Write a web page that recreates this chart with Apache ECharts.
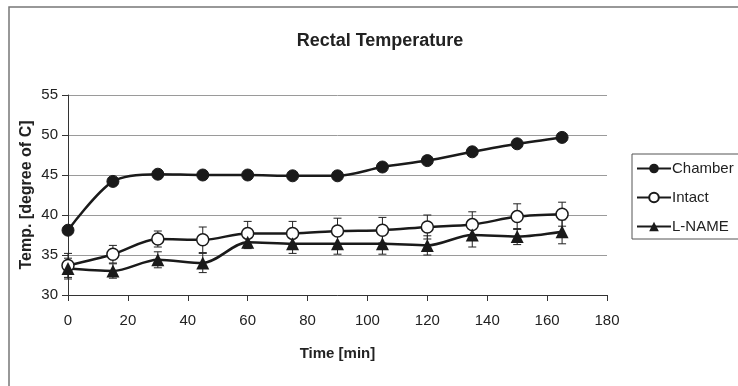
<!DOCTYPE html>
<html><head><meta charset="utf-8">
<script src="https://cdn.jsdelivr.net/npm/echarts@6/dist/echarts.min.js"></script>
<style>html,body{margin:0;padding:0;background:#fff}#c{width:738px;height:386px}</style>
</head><body><div id="c"></div>
<script>
const times = [0, 15, 30, 45, 60, 75, 90, 105, 120, 135, 150, 165];
const chamber = [38.1, 44.2, 45.1, 45.0, 45.0, 44.9, 44.9, 46.0, 46.8, 47.9, 48.9, 49.7];
const intact = [33.7, 35.1, 37.0, 36.9, 37.7, 37.7, 38.0, 38.1, 38.5, 38.8, 39.8, 40.1];
const intactErr = [1.5, 1.1, 1.0, 1.6, 1.5, 1.5, 1.6, 1.6, 1.5, 1.6, 1.6, 1.5];
const lname = [33.3, 33.0, 34.4, 34.0, 36.6, 36.4, 36.4, 36.4, 36.2, 37.5, 37.3, 37.9];
const lnameErr = [1.3, 0.9, 1.0, 1.2, 0.8, 1.2, 1.3, 1.3, 1.2, 1.5, 1.0, 1.5];
const xTicks = [0, 20, 40, 60, 80, 100, 120, 140, 160, 180];
const yTicks = [30, 35, 40, 45, 50, 55];

const pairs = (ys) => times.map((t, i) => [t, ys[i]]);
const errData = (ys, es) => times.map((t, i) => [t, ys[i] - es[i], ys[i] + es[i]]);

function errRender(params, api) {
  const x = api.value(0);
  const lo = api.coord([x, api.value(1)]);
  const hi = api.coord([x, api.value(2)]);
  const w = 4;
  const st = {stroke: '#222', lineWidth: 1};
  return {type: 'group', children: [
    {type: 'line', shape: {x1: lo[0], y1: lo[1], x2: hi[0], y2: hi[1]}, style: st},
    {type: 'line', shape: {x1: lo[0]-w, y1: lo[1], x2: lo[0]+w, y2: lo[1]}, style: st},
    {type: 'line', shape: {x1: hi[0]-w, y1: hi[1], x2: hi[0]+w, y2: hi[1]}, style: st}
  ]};
}

const font = 'Liberation Sans, Arial, sans-serif';
const chart = echarts.init(document.getElementById('c'), null, {renderer: 'canvas'});
chart.setOption({
  animation: false,
  backgroundColor: '#fff',
  textStyle: {fontFamily: font},
  title: {text: 'Rectal Temperature', left: 375, textAlign: 'center', top: 27,
    textStyle: {fontFamily: font, fontSize: 18, fontWeight: 'bold', color: '#222'}},
  graphic: [{type: 'rect', shape: {x: 9, y: 7, width: 740, height: 400},
    style: {fill: 'none', stroke: '#777', lineWidth: 1.5}, z: 100}],
  legend: {orient: 'vertical', left: 632, top: 154, width: 110,
    data: ['Chamber', 'Intact', 'L-NAME'],
    itemWidth: 34, itemHeight: 12, itemGap: 14, padding: [7, 6, 5, 4],
    borderColor: '#555', borderWidth: 1,
    textStyle: {fontFamily: font, fontSize: 15, color: '#222', padding: [0, 0, 0, -4]}},
  grid: {left: 68, right: 131, top: 95, bottom: 91},
  xAxis: {type: 'value', min: 0, max: 180, interval: 20,
    name: 'Time [min]', nameLocation: 'middle', nameGap: 51, nameMoveOverlap: false,
    nameTextStyle: {fontFamily: font, fontSize: 15, fontWeight: 'bold', color: '#222'},
    axisLine: {lineStyle: {color: '#333'}},
    axisTick: {show: true, length: 6, lineStyle: {color: '#333'}},
    axisLabel: {fontFamily: font, fontSize: 15, color: '#222', margin: 18,
      formatter: v => xTicks.includes(v) ? String(v) : ''},
    splitLine: {show: false}},
  yAxis: {type: 'value', min: 30, max: 55, interval: 5,
    name: 'Temp. [degree of C]', nameLocation: 'middle', nameGap: 33, nameRotate: 90, nameMoveOverlap: false,
    nameTextStyle: {fontFamily: font, fontSize: 16, fontWeight: 'bold', color: '#222'},
    axisLine: {show: true, lineStyle: {color: '#333'}},
    axisTick: {show: true, length: 6, lineStyle: {color: '#333'}},
    axisLabel: {fontFamily: font, fontSize: 15, color: '#222', margin: 10,
      formatter: v => yTicks.includes(v) ? String(v) : ''},
    splitLine: {show: true, lineStyle: {color: '#9a9a9a', width: 1}}},
  series: [
    {name: 'Chamber', type: 'line', data: pairs(chamber), smooth: 0.3,
      symbol: 'circle', symbolSize: 12,
      itemStyle: {color: '#1a1a1a', borderColor: '#1a1a1a'}, lineStyle: {color: '#1a1a1a', width: 2.5}, z: 5},
    {name: 'Intact', type: 'line', data: pairs(intact), smooth: 0.3,
      symbol: 'circle', symbolSize: 12,
      itemStyle: {color: '#fff', borderColor: '#1a1a1a', borderWidth: 1.5}, lineStyle: {color: '#1a1a1a', width: 2.5}, z: 5},
    {name: 'L-NAME', type: 'line', data: pairs(lname), smooth: 0.3,
      symbol: 'triangle', symbolSize: 13,
      itemStyle: {color: '#1a1a1a'}, lineStyle: {color: '#1a1a1a', width: 2.5}, z: 5},
    {type: 'custom', renderItem: errRender, data: errData(intact, intactErr), z: 4, silent: true},
    {type: 'custom', renderItem: errRender, data: errData(lname, lnameErr), z: 4, silent: true}
  ]
});
</script></body></html>
